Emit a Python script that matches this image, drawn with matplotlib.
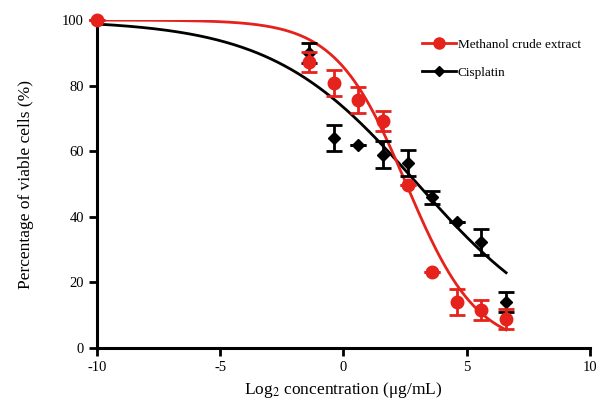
import numpy as np
import matplotlib.pyplot as plt

plt.rcParams['font.family'] = ['Liberation Serif', 'DejaVu Serif']
plt.rcParams['axes.unicode_minus'] = False
plt.rcParams['mathtext.fontset'] = 'stix'

# log2 concentrations
x_pts = [-10, -1.4, -0.4, 0.6, 1.6, 2.6, 3.6, 4.6, 5.6, 6.6]

# methanol crude extract
meth_y = [100, 87.2, 80.8, 75.6, 69.2, 49.7, 23.2, 14.0, 11.6, 8.8]
meth_err = [0, 3, 4, 4, 3, 0, 0, 4, 3, 3]

# cisplatin
cis_x = [-1.4, -0.4, 0.6, 1.6, 2.6, 3.6, 4.6, 5.6, 6.6]
cis_y = [90.0, 64.0, 62.0, 59.0, 56.4, 46.0, 38.5, 32.3, 14.0]
cis_err = [3, 4, 0, 4, 4, 2, 0, 4, 3]

# fitted dose-response curves (top, bottom, midpoint, slope)
meth_fit = (100, 0, 2.55, 0.7)
cis_fit = (100, 0, 3.01, 0.337)


def logistic(x, p):
    top, bottom, x0, k = p
    return bottom + (top - bottom) / (1 + np.exp(k * (x - x0)))


xs = np.linspace(-10, 6.6, 300)

fig = plt.figure(figsize=(5.96, 4.01), dpi=100)
ax = fig.add_axes([0.1628, 0.132, 0.827, 0.818])

red = '#e5221b'
ax.plot(xs, logistic(xs, cis_fit), color='black', lw=2, zorder=2)
ax.plot(xs, logistic(xs, meth_fit), color=red, lw=2, zorder=2)

ax.errorbar(cis_x, cis_y, yerr=cis_err, fmt='D', color='black', ms=6,
            capsize=6, elinewidth=2, capthick=2, zorder=3, clip_on=False)
ax.errorbar(x_pts, meth_y, yerr=meth_err, fmt='o', color=red, ms=9,
            capsize=6, elinewidth=2, capthick=2, zorder=4, clip_on=False)

# legend handles
ax.plot([], [], color=red, lw=2, marker='o', ms=8, label='Methanol crude extract')
ax.plot([], [], color='black', lw=2, marker='D', ms=5, label='Cisplatin')
handles, labels = ax.get_legend_handles_labels()
ax.legend(handles, labels, loc='upper left', bbox_to_anchor=(0.635, 0.98),
          frameon=False, fontsize=9.5, handlelength=2.6, handletextpad=0.1,
          labelspacing=1.2)

ax.set_xlim(-10, 10)
ax.set_ylim(0, 100)
ax.set_xticks([-10, -5, 0, 5, 10])
ax.set_yticks([0, 20, 40, 60, 80, 100])
for s in ['top', 'right']:
    ax.spines[s].set_visible(False)
for s in ['left', 'bottom']:
    ax.spines[s].set_linewidth(2.2)
ax.tick_params(width=2, length=6, labelsize=10.5)

ax.set_xlabel('Log$_2$ concentration (μg/mL)', fontsize=12.5)
ax.set_ylabel('Percentage of viable cells (%)', fontsize=12.5, labelpad=20)

fig.savefig('out.png', dpi=100)
